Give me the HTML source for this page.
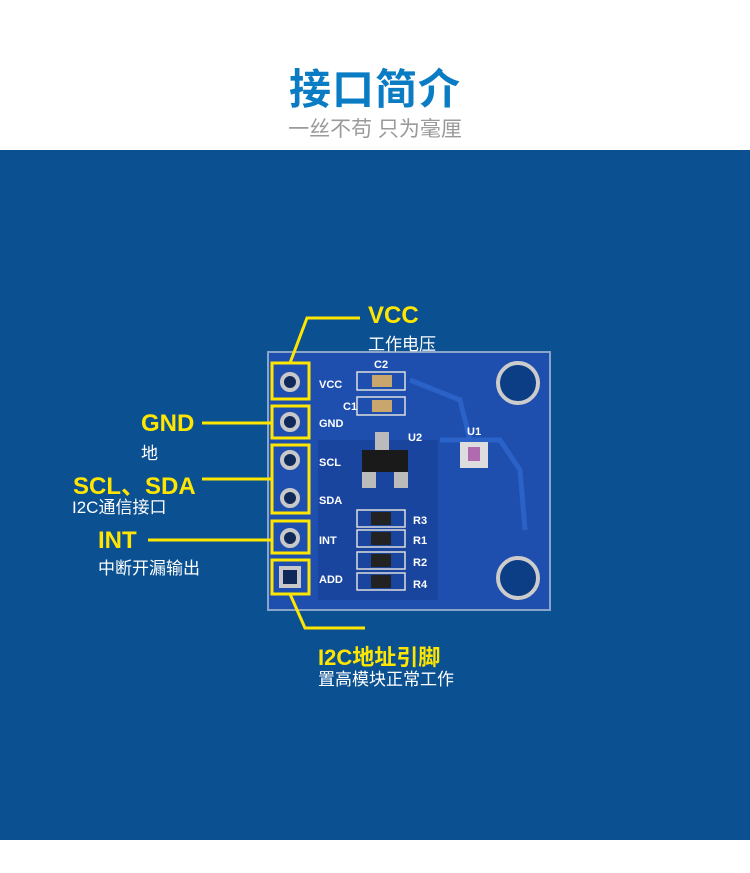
<!DOCTYPE html><html><head><meta charset="utf-8"><style>
body{margin:0;width:750px;height:873px;background:#fff;position:relative;overflow:hidden;font-family:"Liberation Sans","Noto Sans CJK SC",sans-serif}
.t{position:absolute;white-space:nowrap}
</style></head><body>
<div class="t" style="left:0;width:750px;top:56px;text-align:center;font-size:42px;font-weight:bold;color:#0a7cc4;letter-spacing:1px">接口简介</div>
<div class="t" style="left:0;width:750px;top:113px;text-align:center;font-size:21px;color:#9a9a9a">一丝不苟 只为毫厘</div>
<div style="position:absolute;left:0;top:150px;width:750px;height:690px;background:#0b5090"></div>
<svg style="position:absolute;left:0;top:0" width="750" height="873">
<rect x="268" y="352" width="282" height="258" fill="#1e4fae" stroke="#8aa3c8" stroke-width="2"/>
<rect x="318" y="440" width="120" height="160" fill="#173f95" opacity=".6"/>
<path d="M410 380 L460 400 L470 440 M440 440 L500 440 L520 470 L525 530" stroke="#2a62c8" stroke-width="5" fill="none"/>
<circle cx="518" cy="383" r="20" fill="#0c3e86" stroke="#ccc" stroke-width="4"/>
<circle cx="518" cy="578" r="20" fill="#0c3e86" stroke="#ccc" stroke-width="4"/>
<g fill="#0f2a5a" stroke="#c8c8c8" stroke-width="4">
<circle cx="290" cy="382" r="8"/><circle cx="290" cy="422" r="8"/><circle cx="290" cy="460" r="8"/><circle cx="290" cy="498" r="8"/><circle cx="290" cy="538" r="8"/><rect x="281" y="568" width="18" height="18"/></g>
<g fill="#fff" font-family="Liberation Sans" font-weight="bold" font-size="11">
<text x="319" y="388">VCC</text><text x="319" y="427">GND</text><text x="319" y="466">SCL</text><text x="319" y="504">SDA</text><text x="319" y="544">INT</text><text x="319" y="583">ADD</text>
<text x="374" y="368">C2</text><text x="343" y="410">C1</text><text x="408" y="441">U2</text><text x="467" y="435">U1</text>
<text x="413" y="524">R3</text><text x="413" y="544">R1</text><text x="413" y="566">R2</text><text x="413" y="588">R4</text></g>
<g fill="none" stroke="#ddd" stroke-width="1.5">
<rect x="357" y="372" width="48" height="18"/><rect x="357" y="397" width="48" height="18"/>
<rect x="357" y="510" width="48" height="17"/><rect x="357" y="530" width="48" height="17"/><rect x="357" y="552" width="48" height="17"/><rect x="357" y="573" width="48" height="17"/></g>
<rect x="372" y="375" width="20" height="12" fill="#c9a66b"/><rect x="372" y="400" width="20" height="12" fill="#c9a66b"/>
<rect x="362" y="450" width="46" height="22" fill="#1a1a1a"/>
<rect x="375" y="432" width="14" height="18" fill="#bbb"/><rect x="362" y="472" width="14" height="16" fill="#bbb"/><rect x="394" y="472" width="14" height="16" fill="#bbb"/>
<g fill="#222"><rect x="371" y="512" width="20" height="13"/><rect x="371" y="532" width="20" height="13"/><rect x="371" y="554" width="20" height="13"/><rect x="371" y="575" width="20" height="13"/></g>
<rect x="460" y="442" width="28" height="26" fill="#ddd"/><rect x="468" y="447" width="12" height="14" fill="#b06ab0"/>
<g fill="none" stroke="#ffe600" stroke-width="3">
<rect x="272" y="363" width="37" height="36"/><rect x="272" y="406" width="37" height="32"/><rect x="272" y="445" width="37" height="68"/><rect x="272" y="521" width="37" height="32"/><rect x="272" y="560" width="37" height="34"/>
<path d="M290 363 L307 318 L360 318"/><path d="M202 423 L272 423"/><path d="M202 479 L272 479"/><path d="M148 540 L272 540"/><path d="M290 594 L305 628 L365 628"/></g>
</svg>
<div class="t" style="left:368px;top:302px;font-size:24px;font-weight:bold;color:#ffe600">VCC</div>
<div class="t" style="left:368px;top:330px;font-size:17px;color:#fff">工作电压</div>
<div class="t" style="left:141px;top:410px;font-size:24px;font-weight:bold;color:#ffe600">GND</div>
<div class="t" style="left:141px;top:439px;font-size:17px;color:#fff">地</div>
<div class="t" style="left:73px;top:466px;font-size:24px;font-weight:bold;color:#ffe600">SCL、SDA</div>
<div class="t" style="left:72px;top:493px;font-size:17px;color:#fff">I2C通信接口</div>
<div class="t" style="left:98px;top:527px;font-size:24px;font-weight:bold;color:#ffe600">INT</div>
<div class="t" style="left:98px;top:554px;font-size:17px;color:#fff">中断开漏输出</div>
<div class="t" style="left:318px;top:640px;font-size:22px;font-weight:bold;color:#ffe600">I2C地址引脚</div>
<div class="t" style="left:318px;top:665px;font-size:17px;color:#fff">置高模块正常工作</div>
</body></html>
